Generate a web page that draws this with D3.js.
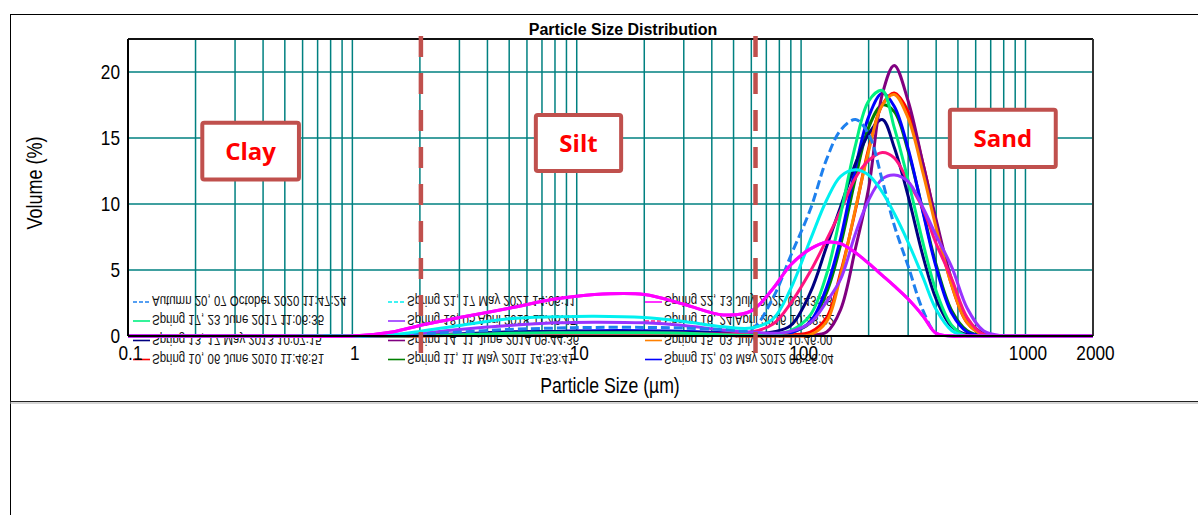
<!DOCTYPE html>
<html><head><meta charset="utf-8">
<script src="https://cdn.jsdelivr.net/npm/d3@7"></script>
<style>
html,body{margin:0;padding:0;background:#fff;}
svg{display:block;}
</style></head><body>
<svg id="chart" width="1198" height="515"></svg>
<script>
// ---------------- DATA ----------------
const sizes = [0.1,0.5,1,1.5,2,3,5,8,12,20,30,45,60,75,90,110,130,150,175,200,230,260,300,350,400,470,550,650,800,1000,2000];

const spring10 = [0,0,0,0,0.05,0.1,0.15,0.2,0.2,0.2,0.15,0.1,0.05,0.05,0.1,0.3,1.4,4.8,9.6,14.2,17.5,18.4,17.0,13.0,8.6,3.8,1.0,0.1,0,0,0];
const spring11 = [0,0,0,0,0.05,0.1,0.2,0.25,0.25,0.25,0.2,0.15,0.1,0.1,0.25,1.0,3.3,6.9,12.0,15.8,17.5,17.0,14.0,9.4,5.4,1.9,0.4,0,0,0,0];
const spring12 = [0,0,0,0,0.05,0.15,0.3,0.35,0.4,0.4,0.35,0.25,0.15,0.1,0.25,1.1,3.7,7.4,12.8,16.6,18.4,17.4,14.2,9.3,5.2,1.7,0.3,0,0,0,0];
const spring13 = [0,0,0,0,0.05,0.15,0.3,0.35,0.35,0.35,0.3,0.2,0.15,0.3,0.8,3.3,6.8,9.8,13.1,15.3,16.4,14.3,10.6,6.0,2.8,0.7,0.1,0,0,0,0];
const spring14 = [0,0,0,0,0,0.05,0.1,0.15,0.15,0.15,0.1,0.05,0,0,0,0.05,0.3,2.0,6.7,11.2,18.3,20.5,17.8,13.0,8.8,4.2,1.3,0.2,0,0,0];
const spring15 = [0,0,0,0,0,0.05,0.1,0.1,0.1,0.1,0.1,0.05,0,0,0,0.1,1.1,4.6,9.7,14.0,17.5,18.3,16.5,12.3,8.2,3.8,1.0,0.1,0,0,0];
const spring16 = [0,0,0,0,0.05,0.1,0.15,0.2,0.2,0.2,0.2,0.15,0.3,0.9,2.5,4.9,7.3,9.5,12.0,13.3,13.9,13.5,11.7,9.6,7.0,4.3,1.4,0.1,0,0,0];
const spring17 = [0,0,0,0,0.05,0.1,0.2,0.25,0.25,0.25,0.2,0.1,0.05,0.1,0.4,1.6,4.7,9.2,14.5,17.8,18.6,15.8,11.8,7.0,3.4,0.8,0,0,0,0,0];
const spring18 = [0,0,0,0.05,0.2,0.5,0.8,1.0,1.05,1.0,0.8,0.45,0.3,0.2,0.35,1.0,2.6,4.3,7.8,10.3,11.9,12.2,11.7,9.7,7.6,5.2,2.1,0.4,0,0,0];
const autumn20 = [0,0,0,0.05,0.15,0.3,0.5,0.6,0.65,0.65,0.6,0.5,0.5,2.9,6.1,9.6,13.4,15.6,16.4,15.3,11.8,8.4,5.3,1.9,0.2,0,0,0,0,0,0];
const spring21 = [0,0,0,0.1,0.35,0.8,1.3,1.45,1.5,1.4,1.1,0.7,0.6,1.3,3.6,7.3,10.3,12.1,12.6,12.2,10.9,9.3,7.1,4.4,2.0,0.4,0,0,0,0,0];
const spring22 = [0,0,0,0.3,0.8,1.4,2.1,2.8,3.15,3.15,2.4,1.6,1.9,3.6,5.4,6.6,7.1,7.0,6.3,5.5,4.6,3.8,2.8,1.5,0.2,0,0,0,0,0,0];

const seriesNames = {
  spring10: "Spring 10, 06 June 2010 11:46:51",
  spring11: "Spring 11, 11 May 2011 14:53:41",
  spring12: "Spring 12, 03 May 2012 08:56:04",
  spring13: "Spring 13, 17 May 2013 10:07:15",
  spring14: "Spring 14, 11 June 2014 09:44:36",
  spring15: "Spring 15, 03 July 2015 10:46:00",
  spring16: "Spring 16, 24 April 2016 10:48:22",
  spring17: "Spring 17, 23 June 2017 11:06:35",
  spring18: "Spring 18, 05 April 2018 11:46:47",
  autumn20: "Autumn 20, 07 October 2020 11:47:24",
  spring21: "Spring 21, 17 May 2021 14:06:11",
  spring22: "Spring 22, 13 July 2022 09:43:38"
};
const seriesValues = {spring10,spring11,spring12,spring13,spring14,spring15,spring16,spring17,spring18,autumn20,spring21,spring22};
const drawOrder = ["spring10","spring11","spring12","spring13","spring14","spring15","spring16","spring17","spring18","autumn20","spring21","spring22"];
const legendOrder = [
  ["autumn20","spring17","spring13","spring10"],
  ["spring21","spring18","spring14","spring11"],
  ["spring22","spring16","spring15","spring12"]
];
const xTicks = [0.1,1,10,100,1000,2000];
const yTicks = [0,5,10,15,20];
const classLimits = [2, 62];
const classLabels = ["Clay","Silt","Sand"];
// label boxes in data units [xMin, xMax, yTop, yBottom]
const classBoxes = [[0.21,0.59,16.3,11.7],[6.44,16.1,16.9,12.35],[451,1393,17.3,12.65]];

// ---------------- STYLE ----------------
const colors = {
  spring10:"#FF0000", spring11:"#008000", spring12:"#0000FF", spring13:"#000080",
  spring14:"#800080", spring15:"#FF8000", spring16:"#FF1480", spring17:"#00F080",
  spring18:"#9933FF", autumn20:"#1E80EE", spring21:"#00F0F0", spring22:"#FF00FF"
};
const curveDash = {autumn20:"9,4"};
const legendDash = {autumn20:"4,2", spring21:"4,2", spring16:"4,2"};

function fontAvailable(name){
  const ctx=document.createElement("canvas").getContext("2d");
  const s="Particle Size 0123456789 Spring";
  ctx.font="40px monospace"; const a=ctx.measureText(s).width;
  ctx.font=`40px '${name}', monospace`; const b=ctx.measureText(s).width;
  return Math.abs(a-b)>1;
}
const hasNarrow = fontAvailable("Liberation Sans Narrow");
const NARROW = hasNarrow ? "'Liberation Sans Narrow', 'Liberation Sans', Arial, sans-serif" : "'Liberation Sans', Arial, sans-serif";
const SX = hasNarrow ? 1 : 0.82;

// ---------------- LAYOUT ----------------
const svg = d3.select("#chart");
const W=1198, H=515;
const plot = {left:128,right:1093,top:39,bottom:336};
const x = d3.scaleLog().domain([0.1,2000]).range([plot.left,plot.right]);
const y = d3.scaleLinear().domain([0,22.5]).range([plot.bottom,plot.top]);

svg.append("rect").attr("width",W).attr("height",H).attr("fill","#fff");

// outer frame
svg.append("line").attr("x1",10).attr("x2",W).attr("y1",14.5).attr("y2",14.5).attr("stroke","#000").attr("stroke-width",1);
svg.append("line").attr("x1",10.5).attr("x2",10.5).attr("y1",14).attr("y2",H).attr("stroke","#000").attr("stroke-width",1);
svg.append("line").attr("x1",10).attr("x2",W).attr("y1",401.5).attr("y2",401.5).attr("stroke","#222").attr("stroke-width",1.2);
svg.append("line").attr("x1",10).attr("x2",W).attr("y1",403).attr("y2",403).attr("stroke","#aaa").attr("stroke-width",1);

function ntext(parent, px, py, str, o){
  const g=parent.append("g").attr("transform",`translate(${px},${py})${o.rotate?` rotate(${o.rotate})`:""}`);
  return g.append("text").attr("transform",`scale(${SX},${o.flip?-1:1})`)
    .attr("text-anchor",o.anchor||"start")
    .style("font-family",o.family||NARROW).style("font-size",o.size+"px")
    .style("font-weight",o.weight||"normal")
    .attr("fill",o.fill||"#000").text(str);
}

// grid
const gridX = [];
for(let e=-1;e<=3;e++) for(let k=1;k<=9;k++){ const v=k*Math.pow(10,e); if(v>0.1+1e-9 && v<2000-1e-9) gridX.push(+v.toPrecision(3)); }
const grid = svg.append("g");
grid.selectAll("line.v").data(gridX).join("line").attr("class","v")
  .attr("x1",d=>x(d)).attr("x2",d=>x(d)).attr("y1",plot.top).attr("y2",plot.bottom)
  .attr("stroke","#008080").attr("stroke-width",1.5);
grid.selectAll("line.h").data(yTicks.filter(d=>d>0)).join("line").attr("class","h")
  .attr("x1",plot.left).attr("x2",plot.right).attr("y1",d=>y(d)).attr("y2",d=>y(d))
  .attr("stroke","#008080").attr("stroke-width",1.5);

// legend (flipped text as in reference)
const legendCols=[133,388,645];
const legendRows=[296,315,334.5,353.5];
const leg = svg.append("g");
legendOrder.forEach((col,ci)=>col.forEach((key,ri)=>{
  const lx=legendCols[ci], ly=legendRows[ri];
  leg.append("line").attr("x1",lx).attr("x2",lx+17).attr("y1",ly+6).attr("y2",ly+6)
    .attr("stroke",colors[key]).attr("stroke-width",1.6)
    .attr("stroke-dasharray",legendDash[key]||null);
  ntext(leg, lx+19, ly, seriesNames[key], {size:14, flip:true, fill:"#111"});
}));

// curves
svg.append("clipPath").attr("id","clip").append("rect")
  .attr("x",plot.left).attr("y",plot.top-5).attr("width",plot.right-plot.left).attr("height",plot.bottom-plot.top+7);
const line = d3.line().x((d,i)=>x(sizes[i])).y(d=>y(d)).curve(d3.curveCatmullRom.alpha(0.5));
const curves = svg.append("g").attr("clip-path","url(#clip)");
drawOrder.forEach(key=>{
  curves.append("path").datum(seriesValues[key]).attr("d",line)
    .attr("fill","none").attr("stroke",colors[key]).attr("stroke-width",3)
    .attr("stroke-linejoin","round")
    .attr("stroke-dasharray",curveDash[key]||null);
});

// plot border & axes lines
svg.append("line").attr("x1",plot.left).attr("x2",plot.right).attr("y1",plot.top).attr("y2",plot.top).attr("stroke","#111").attr("stroke-width",1.8);
svg.append("line").attr("x1",plot.right).attr("x2",plot.right).attr("y1",plot.top).attr("y2",plot.bottom).attr("stroke","#333").attr("stroke-width",2);
svg.append("line").attr("x1",plot.left).attr("x2",plot.left).attr("y1",plot.top).attr("y2",plot.bottom).attr("stroke","#000").attr("stroke-width",2);
svg.append("line").attr("x1",plot.left).attr("x2",plot.right).attr("y1",plot.bottom).attr("y2",plot.bottom).attr("stroke","#000").attr("stroke-width",2);
// magenta series lies on top of the baseline in the reference
curves.append("path").datum(spring22).attr("d",line).attr("fill","none").attr("stroke",colors.spring22).attr("stroke-width",3);

// class limit dashed lines
svg.selectAll("line.lim").data(classLimits).join("line").attr("class","lim")
  .attr("x1",d=>x(d)+1).attr("x2",d=>x(d)+1).attr("y1",plot.top-3).attr("y2",plot.bottom+20)
  .attr("stroke","#C0504D").attr("stroke-width",4.5).attr("stroke-dasharray","21,16");

// class label boxes
classBoxes.forEach((b,i)=>{
  const x0=x(b[0])+2, x1=x(b[1])-2, y0=y(b[2])+2, y1=y(b[3])-2;
  svg.append("rect").attr("x",x0).attr("y",y0).attr("width",x1-x0).attr("height",y1-y0)
    .attr("rx",2).attr("fill","#fff").attr("stroke","#C0504D").attr("stroke-width",4);
  svg.append("text").attr("x",(x0+x1)/2).attr("y",(y0+y1)/2+9).attr("text-anchor","middle")
    .style("font-family","'Open Sans', 'Noto Sans', sans-serif").style("font-weight","bold").style("font-size","24px")
    .attr("fill","#FF0000").text(classLabels[i]);
});

// axes
const yAxis = svg.append("g").attr("transform",`translate(${plot.left},0)`)
  .call(d3.axisLeft(y).tickValues(yTicks).tickSize(0).tickPadding(8).tickFormat(d3.format("d")));
yAxis.select(".domain").remove();
yAxis.selectAll("text").style("font-family",NARROW).style("font-size","21px").attr("fill","#000")
  .attr("x",-8/SX).attr("transform",`scale(${SX},1)`);

const xAxis = svg.append("g").attr("transform",`translate(0,${plot.bottom})`)
  .call(d3.axisBottom(x).tickValues(xTicks).tickSize(0).tickPadding(9).tickFormat(d=>String(d)));
xAxis.select(".domain").remove();
xAxis.selectAll("text").style("font-family",NARROW).style("font-size","21px").attr("fill","#000")
  .attr("x",2/SX).attr("transform",`scale(${SX},1)`);

// titles
svg.append("text").attr("x",623).attr("y",35).attr("text-anchor","middle")
  .style("font-family","'Liberation Sans', Arial, sans-serif").style("font-weight","bold").style("font-size","16px")
  .attr("fill","#000").text("Particle Size Distribution");
ntext(svg, 610, 393, "Particle Size (µm)", {size:21.5, anchor:"middle"});
ntext(svg, 42, 183, "Volume (%)", {size:22, anchor:"middle", rotate:-90});
</script>
</body></html>
